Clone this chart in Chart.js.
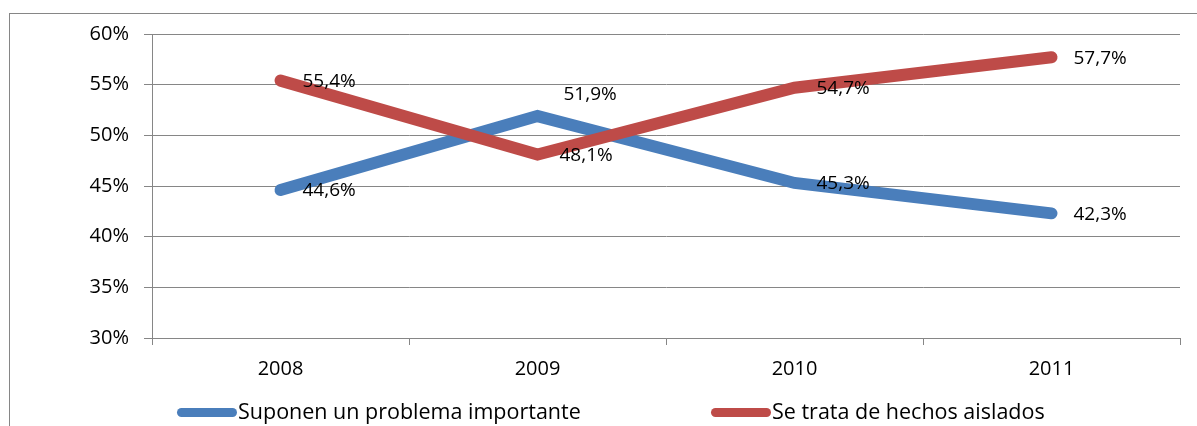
<!DOCTYPE html>
<html>
<head>
<meta charset="utf-8">
<script src="https://cdn.jsdelivr.net/npm/chart.js@4"></script>
<style>
  html, body { margin: 0; padding: 0; background: #fff; overflow: hidden; }
  #frame { position: absolute; left: 9px; top: 13px; width: 1300px; height: 500px;
           border-left: 1px solid #868686; border-top: 1px solid #868686; }
  #chart { position: absolute; left: 0; top: 0; }
  #legend { position: absolute; left: 0; top: 400px; width: 1197px; height: 22px;
            font: 21.5px 'Open Sans', sans-serif; color: #000; }
  .item { position: absolute; top: 0; white-space: nowrap; line-height: 22px; }
  .bar { display: inline-block; width: 60px; height: 9px; border-radius: 5px;
         vertical-align: middle; margin-right: 1px; position: relative; top: -1px; }
</style>
</head>
<body>
<div id="frame"></div>
<canvas id="chart" width="1197" height="426"></canvas>
<div id="legend"></div>
<script>
// Data
const aar = ["2008", "2009", "2010", "2011"];
const serieNavn = ["Suponen un problema importante", "Se trata de hechos aislados"];
const problema = [44.6, 51.9, 45.3, 42.3];
const aislados = [55.4, 48.1, 54.7, 57.7];
const yTicks = [30, 35, 40, 45, 50, 55, 60];
const farger = ["#4A7EBB", "#BE4B48"];

const grid = "#868686";
const fontFam = "'Open Sans', sans-serif";

// Verdietiketter til høyre for punktene, med komma som desimaltegn
const etiketter = {
  id: "etiketter",
  afterDatasetsDraw(chart) {
    const ctx = chart.ctx;
    ctx.save();
    ctx.font = "19px " + fontFam;
    ctx.fillStyle = "#000";
    ctx.textAlign = "left";
    ctx.textBaseline = "middle";
    chart.data.datasets.forEach((ds, i) => {
      chart.getDatasetMeta(i).data.forEach((pt, j) => {
        // toppunktet i blå serie har etiketten løftet over linjen
        const topp = i === 0 && j === 1;
        const dx = topp ? 26 : 22;
        const dy = topp ? -21 : 1;
        ctx.fillText(ds.data[j].toFixed(1).replace(".", ",") + "%", pt.x + dx, pt.y + dy);
      });
    });
    ctx.restore();
  }
};

new Chart(document.getElementById("chart"), {
  type: "line",
  data: {
    labels: aar,
    datasets: [
      {
        label: serieNavn[0],
        data: problema,
        borderColor: farger[0],
        backgroundColor: farger[0],
        borderWidth: 12,
        borderCapStyle: "round",
        borderJoinStyle: "miter",
        pointRadius: 0,
        tension: 0,
        order: 2
      },
      {
        label: serieNavn[1],
        data: aislados,
        borderColor: farger[1],
        backgroundColor: farger[1],
        borderWidth: 12,
        borderCapStyle: "round",
        borderJoinStyle: "miter",
        pointRadius: 0,
        tension: 0,
        order: 1
      }
    ]
  },
  options: {
    responsive: false,
    animation: false,
    devicePixelRatio: 1,
    layout: { padding: { left: 68, right: 17, top: 34, bottom: 40 } },
    plugins: {
      legend: { display: false },
      tooltip: { enabled: false }
    },
    scales: {
      x: {
        offset: true,
        grid: { offset: true, drawOnChartArea: false, drawTicks: true, tickLength: 7, color: grid },
        border: { display: true, color: grid },
        ticks: { color: "#000", font: { family: fontFam, size: 20 }, padding: 12, maxRotation: 0 },
        afterFit(scale) { scale.height = 48; }
      },
      y: {
        min: yTicks[0],
        max: yTicks[yTicks.length - 1],
        afterBuildTicks(scale) { scale.ticks = yTicks.map(v => ({ value: v })); },
        grid: { color: grid, tickLength: 8 },
        border: { display: true, color: grid },
        ticks: {
          color: "#000",
          font: { family: fontFam, size: 20 },
          padding: 15,
          callback: v => v + "%"
        },
        afterFit(scale) { scale.width = 84; }
      }
    }
  },
  plugins: [etiketter]
});

// Tegnforklaring
const legend = document.getElementById("legend");
const posisjoner = [177, 711];
serieNavn.forEach((navn, i) => {
  const el = document.createElement("div");
  el.className = "item";
  el.style.left = posisjoner[i] + "px";
  const bar = document.createElement("span");
  bar.className = "bar";
  bar.style.background = farger[i];
  el.appendChild(bar);
  el.appendChild(document.createTextNode(navn));
  legend.appendChild(el);
});
</script>
</body>
</html>
